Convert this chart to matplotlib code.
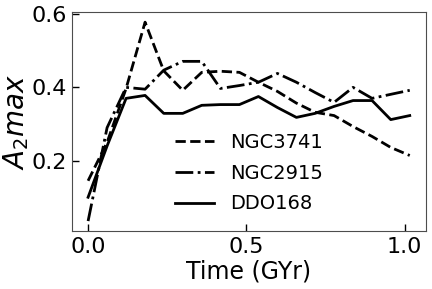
import numpy as np
import matplotlib
matplotlib.use("Agg")
from matplotlib import pyplot as plt

# Time grid (GYr)
time = [0.0, 0.06, 0.12, 0.18, 0.239, 0.299, 0.359, 0.418, 0.478, 0.538,
        0.598, 0.658, 0.717, 0.777, 0.837, 0.897, 0.956, 1.016]

# A2max for each galaxy
ngc3741 = [0.145, 0.25, 0.397, 0.578, 0.445, 0.392, 0.441, 0.444, 0.441, 0.414,
           0.389, 0.357, 0.332, 0.323, 0.293, 0.266, 0.236, 0.214]
ngc2915 = [0.035, 0.29, 0.40, 0.395, 0.447, 0.471, 0.471, 0.397, 0.405, 0.414,
           0.438, 0.414, 0.386, 0.359, 0.400, 0.370, 0.381, 0.392]
ddo168 = [0.10, 0.24, 0.370, 0.378, 0.329, 0.329, 0.351, 0.353, 0.353, 0.375,
          0.345, 0.318, 0.329, 0.348, 0.364, 0.364, 0.312, 0.323]

fig = plt.figure(figsize=(4.32, 2.89), dpi=100)
ax = fig.add_axes([0.1667, 0.2007, 0.819, 0.757])

ax.plot(time, ngc3741, color='black', ls='--', lw=2, label='NGC3741')
ax.plot(time, ngc2915, color='black', ls='-.', lw=2, label='NGC2915')
ax.plot(time, ddo168, color='black', ls='-', lw=2, label='DDO168')

ax.set_xticks([0.0, 0.5, 1.0])
ax.set_yticks([0.2, 0.4, 0.6])
ax.tick_params(direction='in', length=5, width=1, labelsize=16, pad=4)
for s in ax.spines.values():
    s.set_color('0.3')

ax.set_xlabel('Time (GYr)', fontsize=17, labelpad=2)
ax.set_ylabel('$A_2max$', fontsize=20, labelpad=0)

ax.legend(loc='lower center', frameon=False, fontsize=14, labelspacing=0.6)

fig.savefig('out.png', dpi=100)
